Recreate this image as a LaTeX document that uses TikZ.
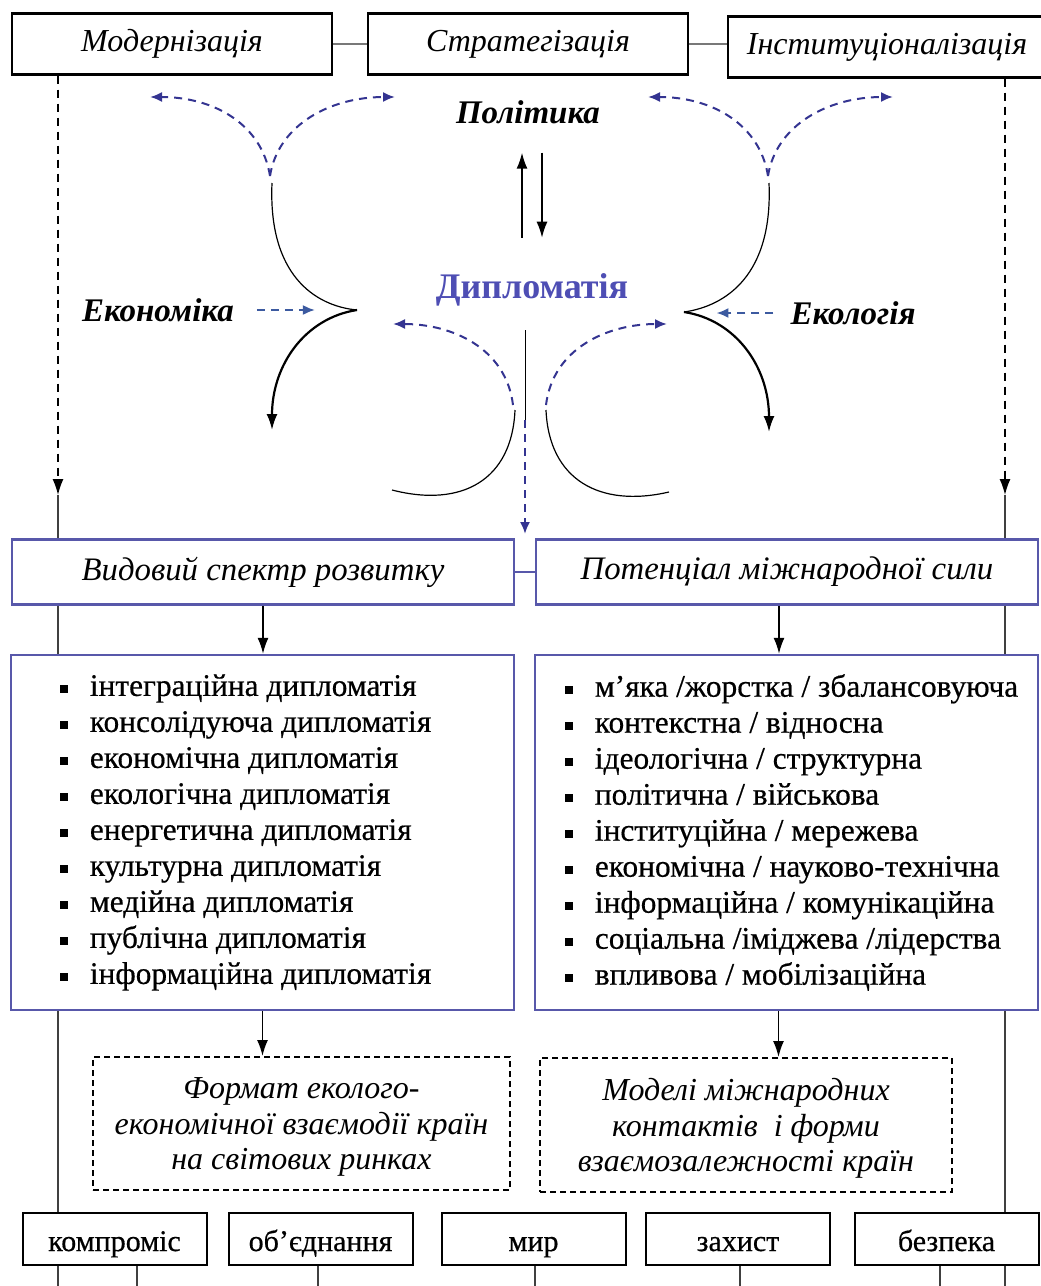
\documentclass[tikz,border=0pt]{standalone}
\usepackage{fontspec}
\setmainfont{Liberation Serif}
\newfontfamily\heavyserif[FakeBold=0.5]{Liberation Serif}
\usetikzlibrary{arrows.meta,positioning}
\definecolor{boxblue}{RGB}{88,88,170}
\definecolor{arrblue}{RGB}{52,52,145}
\definecolor{dipblue}{RGB}{78,78,180}
\definecolor{steel}{RGB}{60,90,160}
\definecolor{linegrey}{RGB}{120,120,120}
\newcommand\hdfont{\fontsize{16}{18}\selectfont\itshape}
\newcommand\midfont{\fontsize{16.4}{18}\selectfont\itshape}
\newcommand\bifont{\fontsize{16.5}{20}\selectfont\bfseries\itshape}
\newcommand\dipfont{\fontsize{18}{20}\selectfont\bfseries}
\newcommand\lstfont{\heavyserif\fontsize{15.7}{18}\selectfont}
\newcommand\smfont{\heavyserif\fontsize{15}{16}\selectfont}
\newcommand\sq{\makebox[15pt][l]{\rule[1.6pt]{4pt}{4pt}}}

\begin{document}
\begin{tikzpicture}[x=0.5pt,y=-0.5pt,
  topbox/.style={draw,line width=1.2pt,fill=white,minimum width=160pt,minimum height=30.5pt,font=\hdfont},
  midbox/.style={draw=boxblue,line width=1.2pt,fill=white,minimum width=251pt,minimum height=32.5pt,font=\midfont},
  listbox/.style={draw=boxblue,line width=1.2pt,fill=white,minimum width=251.5pt,minimum height=177.5pt},
  dashbox/.style={draw,line width=1pt,dash pattern=on 3pt off 2pt,text depth=0pt,font=\fontsize{16}{18}\selectfont\itshape},
  smallbox/.style={draw,line width=1pt,fill=white,minimum width=92pt,minimum height=26pt,text height=13pt,text depth=1pt,font=\smfont},
  arr/.style={-{Latex[length=8pt,width=5.5pt]},line width=0.8pt},
  bluedash/.style={arrblue,line width=1pt,dash pattern=on 4pt off 3pt,-{Latex[length=6pt,width=5pt]}},
  thinline/.style={line width=0.6pt,black!75}]
\useasboundingbox (0,0) rectangle (1040,1286);
%
\node[topbox] (mod) at (172,44) {Модернізація};
\node[topbox] (strat) at (528,44) {Стратегізація};
\node[topbox,minimum width=159pt] (inst) at (887,47) {Інституціоналізація};
\draw[linegrey,line width=1pt] (mod) -- (strat);
\draw[linegrey,line width=1pt] (strat.east) -- (strat.east -| inst.west);
%
\node[font=\bifont] (pol) at (528,112) {Політика};
\draw[arr] ([xshift=-3pt,yshift=-53.5pt]pol.south) -- ([xshift=-3pt,yshift=-11pt]pol.south);
\draw[arr] ([xshift=7pt,yshift=-11pt]pol.south) -- ([xshift=7pt,yshift=-53.5pt]pol.south);
\node[font=\dipfont,text=dipblue] (dip) at (532,290) {Дипломатія};
\node[font=\bifont] (econ) at (158,310) {Економіка};
\node[font=\bifont] (ecol) at (853,313) {Екологія};
\draw[steel,line width=1pt,dash pattern=on 4pt off 3pt,-{Latex[length=6pt,width=5pt]}]
  ([xshift=8pt]econ.east) -- ([xshift=37pt]econ.east);
\draw[steel,line width=1pt,dash pattern=on 4pt off 3pt,-{Latex[length=6pt,width=5pt]}]
  ([xshift=-5pt]ecol.west) -- ([xshift=-33.5pt]ecol.west);
%
\draw[line width=0.6pt] (272,183) .. controls (268,275) and (315,306) .. (357,310);
\draw[arr,line width=1.1pt] (357,310) .. controls (305,318) and (272,365) .. (272,430);
\draw[line width=0.6pt] (769,183) .. controls (773,275) and (726,306) .. (684,312);
\draw[arr,line width=1.1pt] (684,312) .. controls (736,320) and (769,367) .. (769,432);
\foreach \s in {270,768}{
  \draw[bluedash] (\s,176) .. controls (\s-8,125) and (\s-55,97) .. (\s-120,97);
  \draw[bluedash] (\s,176) .. controls (\s+8,125) and (\s+60,97) .. (\s+125,97);
}
\draw[bluedash] (513,405) .. controls (506,348) and (452,324) .. (393,324);
\draw[bluedash] (546,405) .. controls (553,348) and (608,324) .. (667,324);
\draw[line width=0.6pt] (515,410) .. controls (512,480) and (462,508) .. (392,490);
\draw[line width=0.6pt] (546,410) .. controls (549,480) and (600,508) .. (669,492);
\coordinate (dtop) at (525,330);
\coordinate (dmid) at (525,420);
\coordinate (dend) at (525,534);
\draw[line width=0.5pt] (dtop) -- (dmid);
\draw[bluedash] (dmid) -- (dend);
%
\node[midbox] (vyd) at (263,572) {Видовий спектр розвитку};
\node[midbox] (pot) at (787,572) {Потенціал міжнародної сили};
\draw[boxblue,line width=1pt] (vyd) -- (pot);
\node[listbox] (listL) at (262.5,832.5) {};
\node[listbox] (listR) at (786.5,832.5) {};
\node[anchor=west,align=left,font=\lstfont] (itemsL) at ([xshift=21.5pt]listL.west) {%
  \sq інтеграційна дипломатія\\ \sq консолідуюча дипломатія\\
  \sq економічна дипломатія\\ \sq екологічна дипломатія\\
  \sq енергетична дипломатія\\ \sq культурна дипломатія\\
  \sq медійна дипломатія\\ \sq публічна дипломатія\\
  \sq інформаційна дипломатія};
\node[anchor=west,align=left,font=\lstfont] (itemsR) at ([xshift=12pt]listR.west) {%
  \sq м’яка /жорстка / збалансовуюча\\ \sq контекстна / відносна\\
  \sq ідеологічна / структурна\\ \sq політична / військова\\
  \sq інституційна / мережева\\ \sq економічна / науково-технічна\\
  \sq інформаційна / комунікаційна\\ \sq соціальна /іміджева /лідерства\\
  \sq впливова / мобілізаційна};
\draw[arr] (vyd.south) -- (vyd.south |- listL.north);
\draw[arr] ([xshift=-4pt]pot.south) -- ([xshift=-4pt]pot.south |- listR.north);
%
\node[dashbox,minimum width=208.5pt,minimum height=66.5pt] (fmt) at (301.5,1123.5)
  {\shortstack{Формат еколого-\\[0.5pt]економічної взаємодії країн\\[0.5pt]на світових ринках}};
\node[dashbox,minimum width=206pt,minimum height=67pt] (models) at (746,1125)
  {\shortstack{Моделі міжнародних\\[0.5pt]контактів\ \ і форми\\[0.5pt]взаємозалежності країн}};
\draw[arr] (listL.south) -- (listL.south |- fmt.north);
\draw[arr] ([xshift=-4pt]listR.south) -- ([xshift=-4pt]listR.south |- models.north);
%
\node[smallbox] (b1) at (114.5,1239) {компроміс};
\node[smallbox] (b2) at (320.5,1239) {об’єднання};
\node[smallbox] (b3) at (533.5,1239) {мир};
\node[smallbox] (b4) at (738,1239) {захист};
\node[smallbox] (b5) at (946.5,1239) {безпека};
%
\coordinate (ltip) at (58,495);
\coordinate (rtip) at (1005,495);
\draw[arr,line width=0.7pt,dash pattern=on 4pt off 3pt] (mod.south -| ltip) -- (ltip);
\draw[arr,line width=0.7pt,dash pattern=on 4pt off 3pt] (inst.south -| rtip) -- (rtip);
\draw[thinline] (ltip) -- (ltip |- vyd.north);
\draw[thinline] (ltip |- vyd.south) -- (ltip |- listL.north);
\draw[thinline] (ltip |- listL.south) -- (ltip |- b1.north);
\draw[thinline] (rtip) -- (rtip |- pot.north);
\draw[thinline] (rtip |- pot.south) -- (rtip |- listR.north);
\draw[thinline] (rtip |- listR.south) -- (rtip |- b5.north);
\foreach \x/\b in {58/b1,137/b1,318/b2,535/b3,740/b4,940/b5,1005/b5}
  \draw[thinline] (\b.south -| \x,0) -- (\x,1290);
\end{tikzpicture}
\end{document}
